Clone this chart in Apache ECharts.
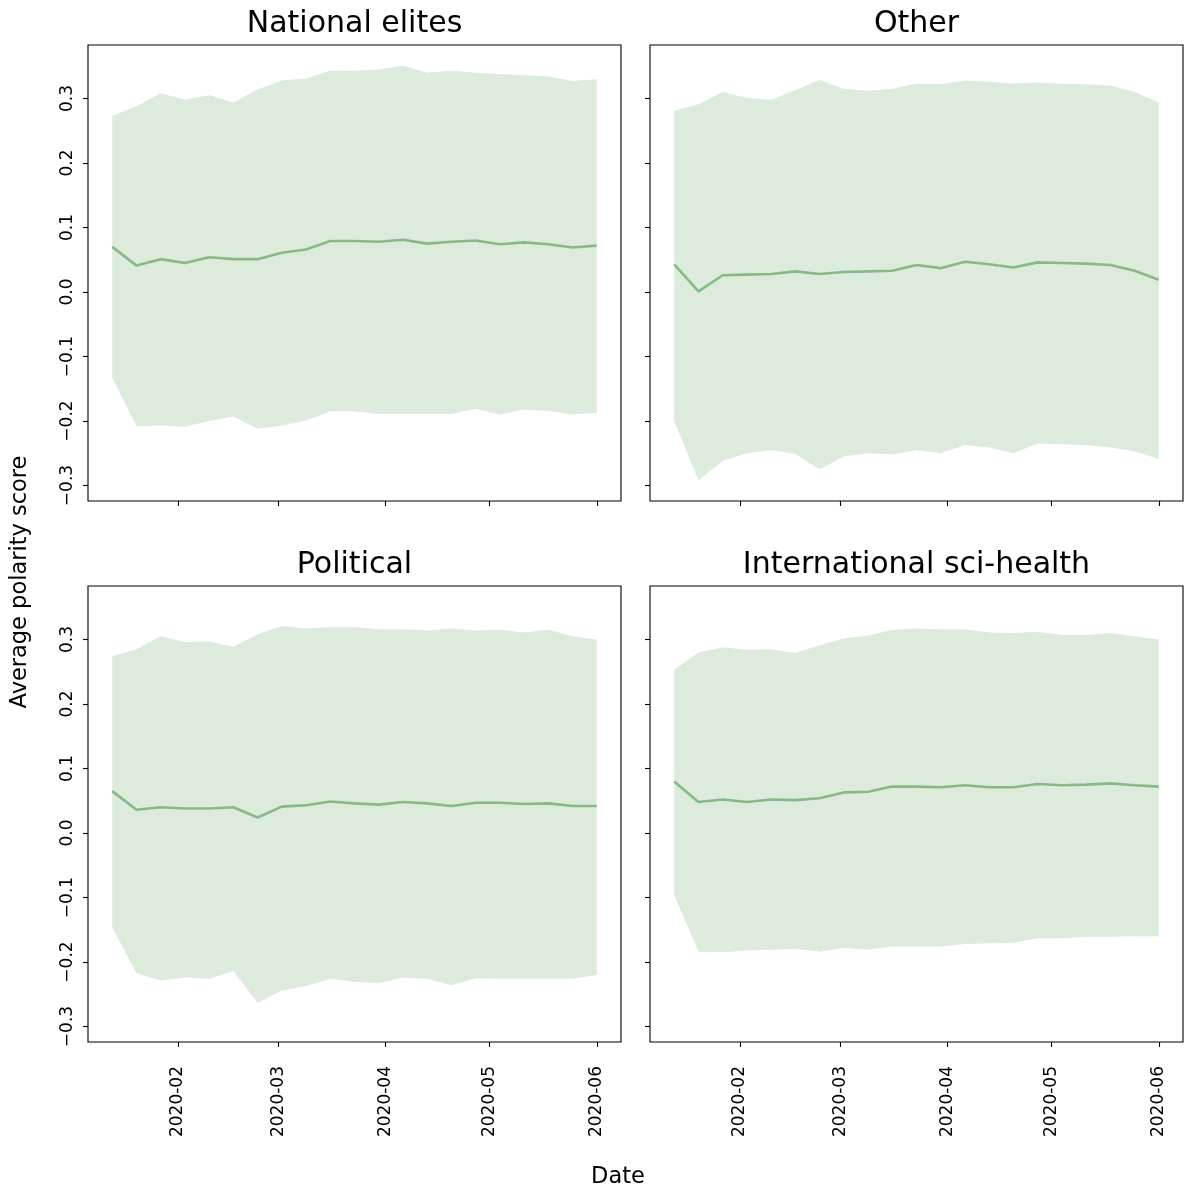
<!DOCTYPE html>
<html>
<head>
<meta charset="utf-8">
<script src="https://cdn.jsdelivr.net/npm/echarts@6/dist/echarts.min.js"></script>
<style>
  html, body { margin: 0; padding: 0; background: #fff; }
  #chart { width: 1184px; height: 1191px; }
</style>
</head>
<body>
<div id="chart"></div>
<script>
// Weekly sampling dates (Mondays)
const weeks = ['2020-01-13','2020-01-20','2020-01-27','2020-02-03','2020-02-10','2020-02-17','2020-02-24',
               '2020-03-02','2020-03-09','2020-03-16','2020-03-23','2020-03-30','2020-04-06','2020-04-13',
               '2020-04-20','2020-04-27','2020-05-04','2020-05-11','2020-05-18','2020-05-25','2020-06-01'];
const monthTicks = ['2020-02','2020-03','2020-04','2020-05','2020-06'];
const polarityTicks = [-0.3, -0.2, -0.1, 0.0, 0.1, 0.2, 0.3];
const panelTitles = ['National elites', 'Other', 'Political', 'International sci-health'];

// National elites
const elitesMean  = [0.070,0.041,0.051,0.045,0.054,0.051,0.051,0.061,0.066,0.079,0.079,0.078,0.081,0.075,0.078,0.080,0.074,0.077,0.074,0.069,0.072];
const elitesUpper = [0.273,0.288,0.308,0.298,0.305,0.294,0.314,0.328,0.331,0.343,0.343,0.345,0.351,0.340,0.343,0.340,0.338,0.336,0.334,0.327,0.330];
const elitesLower = [-0.133,-0.208,-0.207,-0.209,-0.200,-0.193,-0.212,-0.207,-0.199,-0.185,-0.185,-0.189,-0.189,-0.189,-0.189,-0.181,-0.190,-0.182,-0.184,-0.190,-0.187];

// Other
const otherMean  = [0.043,0.001,0.026,0.027,0.028,0.032,0.028,0.031,0.032,0.033,0.042,0.037,0.047,0.043,0.038,0.046,0.045,0.044,0.042,0.033,0.019];
const otherUpper = [0.281,0.291,0.310,0.301,0.298,0.313,0.329,0.315,0.312,0.315,0.323,0.322,0.328,0.326,0.323,0.325,0.323,0.322,0.320,0.310,0.294];
const otherLower = [-0.200,-0.292,-0.262,-0.250,-0.245,-0.251,-0.275,-0.255,-0.250,-0.252,-0.245,-0.250,-0.237,-0.241,-0.250,-0.235,-0.236,-0.237,-0.241,-0.247,-0.259];

// Political
const politicalMean  = [0.065,0.036,0.040,0.038,0.038,0.040,0.024,0.041,0.043,0.049,0.046,0.044,0.048,0.046,0.042,0.047,0.047,0.045,0.046,0.042,0.042];
const politicalUpper = [0.274,0.285,0.305,0.296,0.297,0.289,0.308,0.321,0.317,0.319,0.319,0.316,0.316,0.314,0.317,0.314,0.315,0.311,0.315,0.305,0.300];
const politicalLower = [-0.146,-0.217,-0.229,-0.224,-0.226,-0.214,-0.263,-0.244,-0.237,-0.226,-0.231,-0.233,-0.224,-0.226,-0.236,-0.225,-0.226,-0.226,-0.226,-0.226,-0.220];

// International sci-health
const sciMean  = [0.080,0.048,0.052,0.048,0.052,0.051,0.054,0.063,0.064,0.072,0.072,0.071,0.074,0.071,0.071,0.076,0.074,0.075,0.077,0.074,0.072];
const sciUpper = [0.253,0.280,0.288,0.284,0.285,0.279,0.291,0.302,0.306,0.315,0.317,0.316,0.316,0.311,0.310,0.312,0.307,0.307,0.310,0.305,0.300];
const sciLower = [-0.096,-0.184,-0.185,-0.182,-0.181,-0.180,-0.184,-0.178,-0.181,-0.176,-0.176,-0.176,-0.172,-0.171,-0.170,-0.163,-0.163,-0.161,-0.161,-0.160,-0.160];

const FONT = 'DejaVu Sans';
const BAND = '#dcebdc';
const LINE = '#88b888';

// dates become day-resolution timestamps on a linear value axis
function toTime(s) {
  const p = s.split('-').map(Number);
  return Date.UTC(p[0], p[1] - 1, p[2] || 1);
}
function fmtMonth(v) {
  const d = new Date(v);
  return d.getUTCFullYear() + '-' + String(d.getUTCMonth() + 1).padStart(2, '0');
}
function fmtScore(v) {
  const s = (Math.abs(v) < 1e-9 ? 0 : v).toFixed(1);
  return s.replace('-', '\u2212');
}

const panels = [
  { title: panelTitles[0], mean: elitesMean,    upper: elitesUpper,    lower: elitesLower,    left: 88,  top: 45,  xLabels: false, yLabels: true  },
  { title: panelTitles[1], mean: otherMean,     upper: otherUpper,     lower: otherLower,     left: 650, top: 45,  xLabels: false, yLabels: false },
  { title: panelTitles[2], mean: politicalMean, upper: politicalUpper, lower: politicalLower, left: 88,  top: 586, xLabels: true,  yLabels: true  },
  { title: panelTitles[3], mean: sciMean,       upper: sciUpper,       lower: sciLower,       left: 650, top: 586, xLabels: true,  yLabels: false }
];
const PW = 533, PH = 456;
const monthValues = monthTicks.map(toTime);

// the spread band is one closed polygon: along the upper bound, back along the lower bound
function bandRenderer(bandData) {
  return function (params, api) {
    if (params.dataIndex !== 0) return null;
    const pts = [];
    for (let k = 0; k < bandData.length; k++) pts.push(api.coord([bandData[k][0], bandData[k][2]]));
    for (let k = bandData.length - 1; k >= 0; k--) pts.push(api.coord([bandData[k][0], bandData[k][1]]));
    return { type: 'polygon', shape: { points: pts }, style: { fill: BAND } };
  };
}

const grids = [], xAxes = [], yAxes = [], series = [], texts = [];
panels.forEach((p, i) => {
  grids.push({ left: p.left, top: p.top, width: PW, height: PH, show: true,
               borderColor: '#000', borderWidth: 1.1, backgroundColor: 'transparent' });
  xAxes.push({
    gridIndex: i, type: 'value', scale: true,
    min: toTime('2020-01-06'), max: toTime('2020-06-08'),
    splitLine: { show: false }, axisLine: { show: false, onZero: false },
    axisTick: { show: true, length: 5, customValues: monthValues, lineStyle: { color: '#000', width: 1.1 } },
    axisLabel: { show: p.xLabels, customValues: monthValues, rotate: 90, margin: 24,
                 fontFamily: FONT, fontSize: 17, color: '#000', formatter: fmtMonth }
  });
  yAxes.push({
    gridIndex: i, type: 'value', min: -0.324, max: 0.383,
    splitLine: { show: false }, axisLine: { show: false, onZero: false },
    axisTick: { show: true, length: 5, customValues: polarityTicks, lineStyle: { color: '#000', width: 1.1 } },
    axisLabel: { show: p.yLabels, customValues: polarityTicks, rotate: 90, margin: 12,
                 fontFamily: FONT, fontSize: 17, color: '#000', formatter: fmtScore }
  });
  const bandData = weeks.map((w, k) => [toTime(w), p.lower[k], p.upper[k]]);
  series.push({
    type: 'custom', xAxisIndex: i, yAxisIndex: i, silent: true, z: 2,
    encode: { x: 0, y: [1, 2] },
    data: bandData,
    renderItem: bandRenderer(bandData)
  });
  series.push({
    type: 'line', xAxisIndex: i, yAxisIndex: i, symbol: 'none', silent: true, z: 5,
    lineStyle: { color: LINE, width: 2.6 },
    data: weeks.map((w, k) => [toTime(w), p.mean[k]])
  });
  texts.push({
    type: 'text', x: p.left + PW / 2, y: p.top - 21,
    style: { text: p.title, font: '30px "DejaVu Sans"', fill: '#000',
             align: 'center', verticalAlign: 'middle', textAlign: 'center', textVerticalAlign: 'middle' }
  });
});

texts.push({
  type: 'text', x: 20, y: 582, rotation: Math.PI / 2,
  style: { text: 'Average polarity score', font: '22.5px "DejaVu Sans"', fill: '#000',
           align: 'center', verticalAlign: 'middle', textAlign: 'center', textVerticalAlign: 'middle' }
});
texts.push({
  type: 'text', x: 618, y: 1177,
  style: { text: 'Date', font: '22.5px "DejaVu Sans"', fill: '#000',
           align: 'center', verticalAlign: 'middle', textAlign: 'center', textVerticalAlign: 'middle' }
});

const chart = echarts.init(document.getElementById('chart'), null, { renderer: 'canvas' });
chart.setOption({
  animation: false,
  backgroundColor: '#fff',
  grid: grids,
  xAxis: xAxes,
  yAxis: yAxes,
  series: series,
  graphic: { elements: texts }
});
</script>
</body>
</html>
